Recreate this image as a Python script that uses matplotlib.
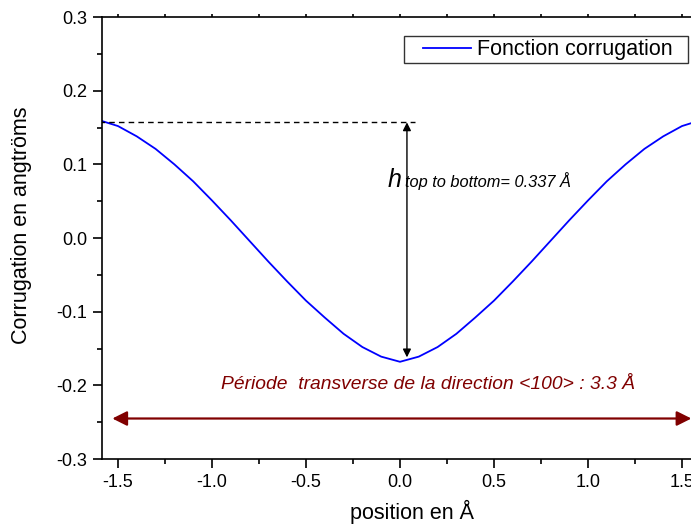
import numpy as np
import matplotlib
matplotlib.use("Agg")
import matplotlib.pyplot as plt
from matplotlib.ticker import MultipleLocator
from matplotlib.lines import Line2D
from matplotlib.legend_handler import HandlerLine2D

plt.rcParams['font.family'] = ['Liberation Sans', 'DejaVu Sans']

# corrugation profile
pos = [-1.6, -1.5, -1.4, -1.3, -1.2, -1.1, -1.0, -0.9, -0.8, -0.7, -0.6, -0.5,
       -0.4, -0.3, -0.2, -0.1, 0.0, 0.1, 0.2, 0.3, 0.4, 0.5, 0.6, 0.7, 0.8,
       0.9, 1.0, 1.1, 1.2, 1.3, 1.4, 1.5, 1.6]
corr = [0.160, 0.152, 0.138, 0.121, 0.100, 0.077, 0.051, 0.024, -0.004,
        -0.032, -0.059, -0.085, -0.108, -0.130, -0.148, -0.161, -0.168,
        -0.161, -0.148, -0.130, -0.108, -0.085, -0.059, -0.032, -0.004,
        0.024, 0.051, 0.077, 0.100, 0.121, 0.138, 0.152, 0.160]

h_top = 0.157
h_bottom = -0.162
h_x = 0.037
period_y = -0.245
period_x = (-1.53, 1.55)

fig = plt.figure(figsize=(6.91, 5.24), dpi=100)
ax = fig.add_axes([0.1476, 0.124, 0.8625, 0.8435])

ax.plot(pos, corr, color='blue', lw=1.3, label='Fonction corrugation  ')

# dashed reference at top of the curve
ax.plot([-1.6, 0.08], [h_top, h_top], color='black', ls=(0, (4, 3)), lw=1)

# height arrow
ax.annotate('', xy=(h_x, h_top), xytext=(h_x, h_bottom),
            arrowprops=dict(arrowstyle='<|-|>', color='black', lw=1,
                            mutation_scale=12, shrinkA=0, shrinkB=0))
ax.text(-0.065, 0.079, 'h', fontsize=18, style='italic', va='center', ha='left')
ax.text(0.025, 0.077, 'top to bottom= 0.337 Å', fontsize=11.8, style='italic',
        va='center', ha='left')

# period arrow
dark_red = '#800000'
ax.annotate('', xy=(period_x[0], period_y), xytext=(period_x[1], period_y),
            arrowprops=dict(arrowstyle='<|-|>', color=dark_red, lw=1.6,
                            mutation_scale=22, shrinkA=0, shrinkB=0))
ax.text(0.15, -0.199, 'Période  transverse de la direction <100> : 3.3 Å',
        color=dark_red, fontsize=13.9, style='italic', ha='center', va='center')

ax.set_xlim(-1.585, 1.585)
ax.set_ylim(-0.3, 0.3)
ax.xaxis.set_major_locator(MultipleLocator(0.5))
ax.xaxis.set_minor_locator(MultipleLocator(0.25))
ax.yaxis.set_major_locator(MultipleLocator(0.1))
ax.yaxis.set_minor_locator(MultipleLocator(0.05))
ax.xaxis.set_major_formatter(plt.FormatStrFormatter('%.1f'))
ax.yaxis.set_major_formatter(plt.FormatStrFormatter('%.1f'))
ax.tick_params(which='both', direction='out', top=True, right=False,
               labelsize=13, width=1.2, pad=4)
ax.tick_params(which='major', length=6.5)
ax.tick_params(which='minor', length=3.5)
for t in ax.xaxis.get_major_ticks() + ax.xaxis.get_minor_ticks():
    t.tick2line.set_markersize(2)
for s in ax.spines.values():
    s.set_linewidth(1.2)

ax.set_xlabel('position en Å', fontsize=15.5)
ax.set_ylabel('Corrugation en angtröms', fontsize=15.5)
ax.xaxis.set_label_coords(0.52, -0.093)
ax.yaxis.set_label_coords(-0.117, 0.53)

leg = ax.legend(loc='upper right', bbox_to_anchor=(0.983, 0.957), fontsize=15.5,
                frameon=True, fancybox=False, edgecolor='black',
                handlelength=2.95, handletextpad=0.3, borderpad=0.15,
                borderaxespad=0,
                handler_map={Line2D: HandlerLine2D(xpad=0.75)})
leg.get_frame().set_linewidth(1)

fig.savefig('out.png', dpi=100)
